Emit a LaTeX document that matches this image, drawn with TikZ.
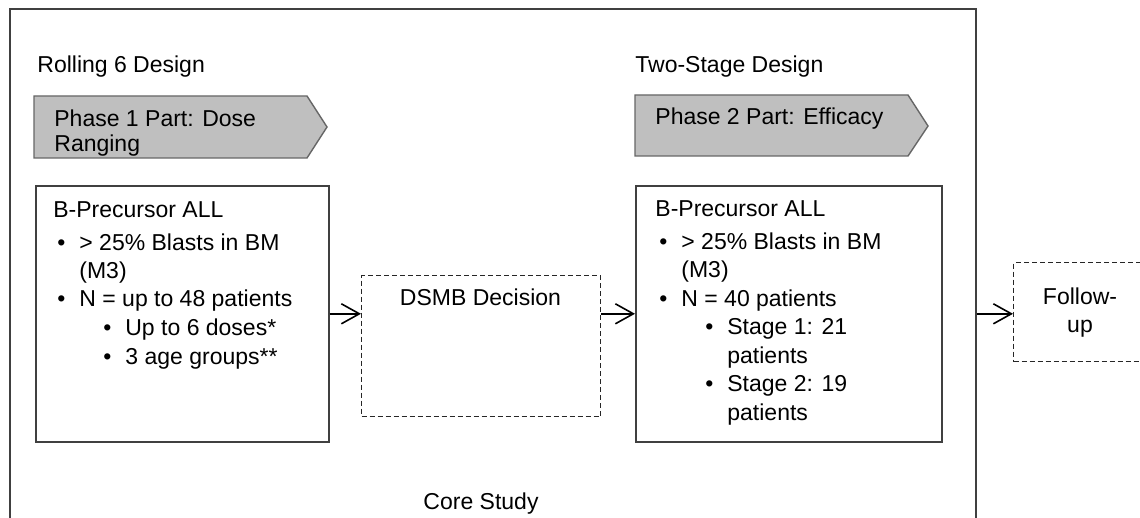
\documentclass[tikz,border=0pt]{standalone}
\usepackage{fontspec}
\setmainfont{Liberation Sans}
\usetikzlibrary{arrows.meta}

% list items inside the boxes
\newcommand{\itm}[1]{\hspace*{2pt}\makebox[11pt][l]{\textbullet}#1}
\newcommand{\subitm}[1]{\hspace*{25pt}\makebox[11pt][l]{\textbullet}#1}

\tikzset{
    box/.style={draw=black!75, line width=0.8pt, anchor=north west, inner sep=0pt},
    dashbox/.style={box, draw=black!85, line width=0.7pt, dash pattern=on 2.5pt off 1.5pt},
    phase/.style={draw=black!60, fill=black!25, line width=0.7pt},
    flow/.style={-{Straight Barb[length=9pt,width=10pt]}, line width=0.8pt},
    txt/.style={anchor=base west, inner sep=0pt, align=left, font=\fontsize{11.5}{14.25}\selectfont},
}

\begin{document}
\begin{tikzpicture}[x=0.5pt, y=-0.5pt]
    \useasboundingbox (0,0) rectangle (1140,518);

    % Core study frame (runs off the bottom)
    \node[box, minimum width=483pt, minimum height=305pt] (core) at (9,8) {};
    \node[txt, anchor=base] (corelabel) at (481,509) {Core Study};

    % Design headings
    \node[txt] (rolling) at (37,73) {Rolling 6 Design};
    \node[txt] (twostage) at (635,73) {Two-Stage Design};

    % Phase banners (multi-line nodes sit on their last baseline)
    \draw[phase] (34,96) -- (307,96) -- (327,127) -- (307,158) -- (34,158) -- cycle;
    \draw[phase] (635,95) -- (908,95) -- (928,126) -- (908,156) -- (635,156) -- cycle;
    \node[txt, font=\fontsize{11.5}{12.5}\selectfont] (phaseone) at (54,152) {Phase 1 Part: Dose\\Ranging};
    \node[txt] (phasetwo) at (655,125) {Phase 2 Part: Efficacy};

    % Boxes
    \node[box, minimum width=146.5pt, minimum height=128pt] (box1) at (35,185) {};
    \node[dashbox, minimum width=119.5pt, minimum height=70.5pt] (dsmb) at (361,275) {};
    \node[box, minimum width=153pt, minimum height=128pt] (box2) at (635,185) {};
    \node[dashbox, minimum width=67pt, minimum height=49.5pt] (follow) at (1013,262) {};

    % Box contents
    \node[txt] (list1) at (53,364) {B-Precursor ALL\\[2.25pt]
        \itm{> 25\% Blasts in BM}\\
        \hspace*{13pt}(M3)\\
        \itm{N = up to 48 patients}\\
        \subitm{Up to 6 doses*}\\
        \subitm{3 age groups**}};
    \node[txt] (list2) at (655,420) {B-Precursor ALL\\[2.25pt]
        \itm{> 25\% Blasts in BM}\\
        \hspace*{13pt}(M3)\\
        \itm{N = 40 patients}\\
        \subitm{Stage 1: 21}\\
        \hspace*{36pt}patients\\
        \subitm{Stage 2: 19}\\
        \hspace*{36pt}patients};
    \node[txt, anchor=base] (dsmbtext) at (480.5,306) {DSMB Decision};
    \node[txt, anchor=base, align=center, font=\fontsize{11.5}{13.5}\selectfont] (followtext) at (1080,332) {Follow-\\up};

    % Flow arrows
    \draw[flow] (box1.east) -- (box1.east -| dsmb.west);
    \draw[flow] (box2.west -| dsmb.east) -- (box2.west);
    \draw[flow] (core.east) -- (core.east -| follow.west);
\end{tikzpicture}
\end{document}
